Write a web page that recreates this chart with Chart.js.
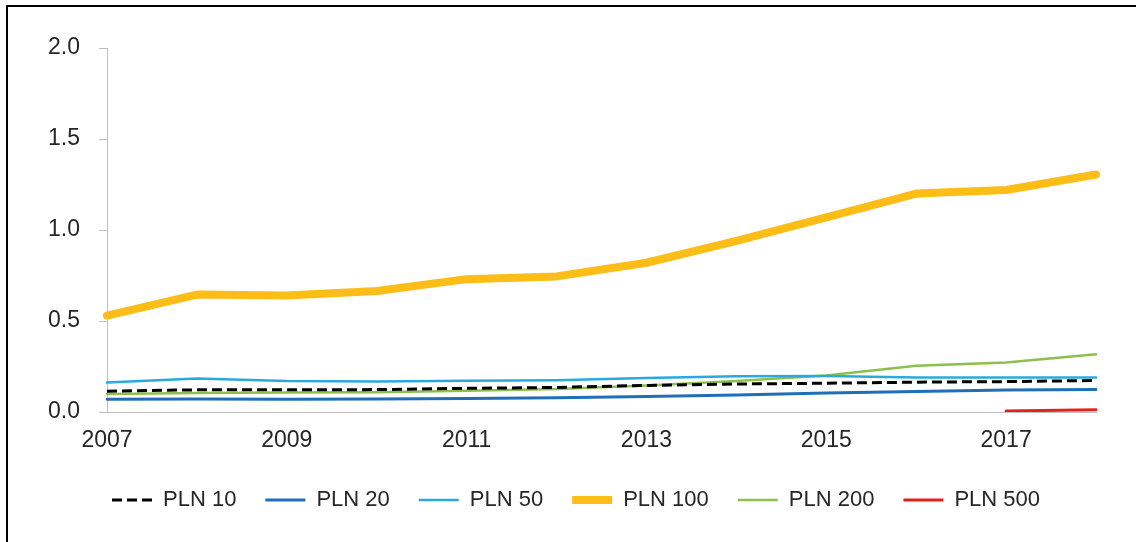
<!DOCTYPE html>
<html>
<head>
<meta charset="utf-8">
<script src="https://cdn.jsdelivr.net/npm/chart.js@4/dist/chart.umd.min.js"></script>
<style>
  html, body { margin: 0; padding: 0; background: #fff; }
  #wrap { position: relative; width: 1136px; height: 542px; }
  #frame { position: absolute; left: 6px; top: 5px; right: 0; bottom: 0;
           border-left: 2px solid #000; border-top: 2px solid #000; pointer-events: none; }
</style>
</head>
<body>
<div id="wrap">
  <canvas id="graph" width="1136" height="542"></canvas>
  <div id="frame"></div>
</div>
<script>
// Années
const years = ['2007', '2008', '2009', '2010', '2011', '2012', '2013', '2014', '2015', '2016', '2017', '2018'];

// Séries
const pln10  = [0.114, 0.122, 0.122, 0.123, 0.130, 0.135, 0.146, 0.154, 0.158, 0.164, 0.167, 0.173];
const pln20  = [0.070, 0.071, 0.070, 0.071, 0.074, 0.078, 0.085, 0.094, 0.104, 0.113, 0.121, 0.124];
const pln50  = [0.162, 0.184, 0.170, 0.168, 0.172, 0.175, 0.187, 0.196, 0.198, 0.190, 0.189, 0.190];
const pln100 = [0.53, 0.645, 0.64, 0.665, 0.73, 0.745, 0.82, 0.94, 1.07, 1.20, 1.22, 1.305];
const pln200 = [0.099, 0.104, 0.107, 0.109, 0.117, 0.127, 0.145, 0.170, 0.200, 0.254, 0.272, 0.317];
const pln500 = [null, null, null, null, null, null, null, null, null, null, 0.005, 0.013];

// Graduations de l'axe Y
const yTicks = [0, 0.5, 1.0, 1.5, 2.0];

const FONT = '"Liberation Sans", Arial, sans-serif';
const TEXT = '#262626';
const AXIS = '#bfbfbf';

function serie(label, data, color, width, dash) {
    return {
        label: label,
        data: data,
        borderColor: color,
        backgroundColor: color,
        borderWidth: width,
        borderDash: dash || [],
        borderCapStyle: dash ? 'butt' : 'round',
        borderJoinStyle: 'round',
        pointRadius: 0,
        tension: 0,
        fill: false
    };
}

// petit décalage de la légende vers la droite
const legendShift = {
    id: 'legendShift',
    afterLayout: function(chart) {
        chart.legend.left += 5;
        chart.legend.right += 5;
    }
};

// légende : garder les pointillés des séries
function legendLabels(chart) {
    const items = Chart.defaults.plugins.legend.labels.generateLabels(chart);
    items.forEach(function(item) {
        item.lineDash = chart.data.datasets[item.datasetIndex].borderDash;
        item.lineCap = 'butt';
    });
    return items;
}

function graph() {
    const ctx = document.getElementById('graph').getContext('2d');
    new Chart(ctx, {
        type: 'line',
        data: {
            labels: years,
            datasets: [
                serie('PLN 10', pln10, '#000000', 3, [10, 5]),
                serie('PLN 20', pln20, '#1f6fb8', 3),
                serie('PLN 50', pln50, '#2aa9e0', 2.5),
                serie('PLN 100', pln100, '#fcbd17', 8),
                serie('PLN 200', pln200, '#8cc04b', 2.5),
                serie('PLN 500', pln500, '#e2231a', 3)
            ]
        },
        plugins: [legendShift],
        options: {
            responsive: false,
            animation: false,
            layout: {
                padding: { left: 46, right: 40, top: 48, bottom: 21 }
            },
            plugins: {
                tooltip: { enabled: false },
                legend: {
                    position: 'bottom',
                    labels: {
                        usePointStyle: true,
                        pointStyle: 'line',
                        pointStyleWidth: 40,
                        boxHeight: 22,
                        padding: 29,
                        color: TEXT,
                        font: { family: FONT, size: 22 },
                        generateLabels: legendLabels
                    }
                }
            },
            scales: {
                x: {
                    grid: { display: false },
                    border: { color: AXIS, width: 1 },
                    afterFit: function(scale) { scale.height = 48; },
                    ticks: {
                        autoSkip: false,
                        maxRotation: 0,
                        padding: 7,
                        color: TEXT,
                        font: { family: FONT, size: 23 },
                        callback: function(v, i) { return i % 2 === 0 ? years[i] : ''; }
                    }
                },
                y: {
                    min: 0,
                    max: 2,
                    afterFit: function(scale) { scale.width = 61; },
                    afterBuildTicks: function(scale) {
                        scale.ticks = yTicks.map(function(v) { return { value: v }; });
                    },
                    grid: { drawOnChartArea: false, drawTicks: true, tickLength: 8, color: AXIS },
                    border: { color: AXIS, width: 1 },
                    ticks: {
                        padding: 19,
                        color: TEXT,
                        font: { family: FONT, size: 23 },
                        callback: function(v) { return Number(v).toFixed(1); }
                    }
                }
            }
        }
    });
}

document.addEventListener('DOMContentLoaded', function() {
    graph();
});
</script>
</body>
</html>
